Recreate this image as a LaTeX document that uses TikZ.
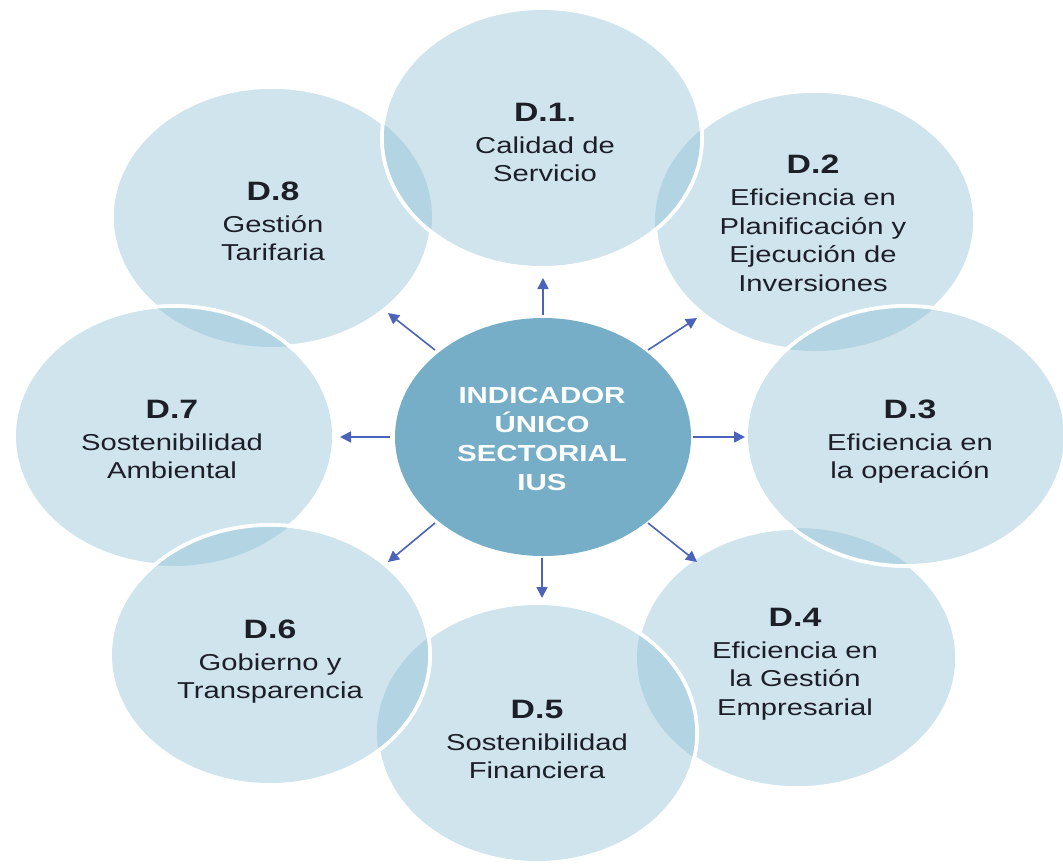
\documentclass[tikz,border=0pt]{standalone}
\usepackage{fontspec}
\setmainfont{Liberation Sans}
\usepackage{graphicx}
\usetikzlibrary{shapes.geometric,arrows.meta}
\definecolor{outerc}{HTML}{D0E4ED}
\definecolor{overc}{HTML}{B3D5E3}
\definecolor{centc}{HTML}{76AEC7}
\definecolor{txtc}{HTML}{1C1F28}
\definecolor{arrc}{HTML}{4B63B8}
\newcommand\lblbox[2]{\scalebox{1.27}[1]{\fontsize{11.5}{14.25}\selectfont\begin{tabular}{@{}c@{}}{\bfseries\fontsize{13.3}{14.25}\selectfont #1}\\[1.75pt] #2\end{tabular}}}
\newcommand\ovlap[2]{\begin{scope}\clip (#1.center) ellipse [x radius=80pt, y radius=65pt]; \fill[overc] (#2.center) ellipse [x radius=80pt, y radius=65pt];\end{scope}}
\newcommand\rimline[1]{\draw[white, line width=1.8pt] (#1.center) ellipse [x radius=80pt, y radius=65pt];}
\begin{document}
\begin{tikzpicture}[x=0.5pt,y=-0.5pt,
  blob/.style={ellipse, minimum width=160pt, minimum height=130pt, inner sep=0pt, fill=outerc, draw=white, line width=1.8pt},
  hub/.style={ellipse, minimum width=148pt, minimum height=119pt, inner sep=0pt, fill=centc},
  lbl/.style={inner sep=0pt, text=txtc},
  arr/.style={draw=arrc, line width=0.8pt, -{Triangle[length=5.5pt,width=5.5pt]}}]
\useasboundingbox (0,0) rectangle (1063,863);
% outer circles, in stacking order
\node[blob] (d8) at (272,217) {};
\node[blob] (d2) at (815,221) {};
\node[blob] (d4) at (797,658) {};
\node[blob] (d7) at (174,436) {}; \ovlap{d8}{d7} \rimline{d7}
\node[blob] (d5) at (537,733) {}; \ovlap{d4}{d5} \rimline{d5}
\node[blob] (d6) at (270,655) {}; \ovlap{d7}{d6} \ovlap{d5}{d6} \rimline{d6}
\node[blob] (d3) at (906,436) {}; \ovlap{d2}{d3} \ovlap{d4}{d3} \rimline{d3}
\node[blob] (d1) at (542,138) {}; \ovlap{d8}{d1} \ovlap{d2}{d1} \rimline{d1}
% centre
\node[hub] (c) at (543,437) {};
% labels
\node[lbl] (l1) at (545,146) {\lblbox{D.1.}{Calidad de\\Servicio}};
\node[lbl] (l2) at (813,227) {\lblbox{D.2}{Eficiencia en\\Planificación y\\Ejecución de\\Inversiones}};
\node[lbl] (l3) at (910,443) {\lblbox{D.3}{Eficiencia en\\la operación}};
\node[lbl] (l4) at (795,665) {\lblbox{D.4}{Eficiencia en\\la Gestión\\Empresarial}};
\node[lbl] (l5) at (537,743) {\lblbox{D.5}{Sostenibilidad\\Financiera}};
\node[lbl] (l6) at (270,663) {\lblbox{D.6}{Gobierno y\\Transparencia}};
\node[lbl] (l7) at (172,443) {\lblbox{D.7}{Sostenibilidad\\Ambiental}};
\node[lbl] (l8) at (273,225) {\lblbox{D.8}{Gestión\\Tarifaria}};
\node[lbl, text=white] (cl) at (542,441) {\scalebox{1.27}[1]{\bfseries\fontsize{11.6}{14.5}\selectfont\begin{tabular}{@{}c@{}}INDICADOR\\ÚNICO\\SECTORIAL\\IUS\end{tabular}}};
% arrows
\coordinate (a1s) at (543,315); \coordinate (a1e) at (543,278);
\coordinate (a2s) at (648,350); \coordinate (a2e) at (697,318);
\coordinate (a3s) at (693,437); \coordinate (a3e) at (745,437);
\coordinate (a4s) at (648,523); \coordinate (a4e) at (697,562);
\coordinate (a5s) at (542,558); \coordinate (a5e) at (542,598);
\coordinate (a6s) at (435,523); \coordinate (a6e) at (388,562);
\coordinate (a7s) at (390,437); \coordinate (a7e) at (340,437);
\coordinate (a8s) at (435,350); \coordinate (a8e) at (388,313);
\foreach \i in {1,...,8} {\draw[arr] (a\i s) -- (a\i e);}
\end{tikzpicture}
\end{document}
